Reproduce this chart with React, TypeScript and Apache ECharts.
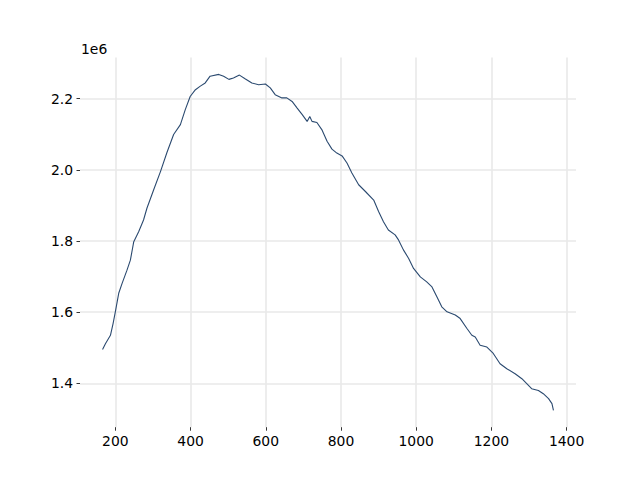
import React, { useEffect, useRef } from "react";
import * as echarts from "echarts";

const xValues: number[] = [
  166, 174, 187, 194, 200, 209, 218, 231, 240, 249, 262, 275, 284, 302, 320, 337, 355, 373, 386, 399,
  413, 426, 439, 452, 475, 488, 502, 514, 530, 546, 563, 581, 599, 612, 625, 643, 656, 670, 683, 697,
  710, 717, 723, 736, 749, 763, 776, 789, 803, 816, 829, 847, 865, 887, 900, 913, 926, 944, 953, 966,
  980, 993, 1011, 1028, 1042, 1055, 1068, 1082, 1104, 1117, 1135, 1148, 1157, 1170, 1188, 1205, 1223,
  1241, 1263, 1281, 1294, 1307, 1325, 1338, 1352, 1361, 1365,
];

const yValues: number[] = [
  1495000, 1512000, 1535000, 1568000, 1601000, 1653000, 1681000, 1718000, 1746000, 1798000,
  1826000, 1859000, 1892000, 1944000, 1995000, 2048000, 2099000, 2127000, 2169000, 2206000,
  2225000, 2235000, 2244000, 2263000, 2268000, 2263000, 2254000, 2258000, 2266000, 2255000,
  2244000, 2239000, 2241000, 2230000, 2211000, 2202000, 2202000, 2192000, 2174000, 2155000,
  2136000, 2150000, 2136000, 2133000, 2113000, 2080000, 2058000, 2047000, 2039000, 2019000,
  1991000, 1958000, 1939000, 1915000, 1883000, 1854000, 1831000, 1817000, 1803000, 1775000,
  1751000, 1723000, 1699000, 1685000, 1671000, 1643000, 1615000, 1601000, 1592000, 1582000,
  1554000, 1535000, 1530000, 1507000, 1502000, 1484000, 1455000, 1441000, 1427000, 1413000,
  1399000, 1385000, 1380000, 1371000, 1357000, 1343000, 1324000,
];

const xTicks: number[] = [200, 400, 600, 800, 1000, 1200, 1400];
const yTicks: number[] = [1400000, 1600000, 1800000, 2000000, 2200000];
const offsetLabel = "1e6";

export default function App() {
  const ref = useRef<HTMLDivElement>(null);

  useEffect(() => {
    if (!ref.current) return;
    const chart = echarts.init(ref.current, undefined, { renderer: "svg" });
    const font = "DejaVu Sans";
    const data = xValues.map((x, i) => [x, yValues[i]]);
    const xmin = Math.min(...xValues);
    const xmax = Math.max(...xValues);
    const ymin = Math.min(...yValues);
    const ymax = Math.max(...yValues);
    const xm = (xmax - xmin) * 0.05;
    const ym = (ymax - ymin) * 0.05;
    const gridLine = { show: true, lineStyle: { color: "#e9e9e9", width: 1.6 } };
    const tick = { show: true, length: 3.5, lineStyle: { color: "#000", width: 0.8 } };

    chart.setOption({
      animation: false,
      backgroundColor: "#fff",
      grid: { left: 80, right: 64, top: 57.6, bottom: 52.8, containLabel: false },
      xAxis: {
        type: "value",
        min: xmin - xm,
        max: xmax + xm,
        axisLine: { show: false },
        axisTick: { ...tick, customValues: xTicks },
        axisLabel: {
          customValues: xTicks,
          margin: 7,
          color: "#000",
          fontFamily: font,
          fontSize: 13.9,
          formatter: (v: number) => String(Math.round(v)),
        },
        splitLine: gridLine,
      },
      yAxis: {
        type: "value",
        min: ymin - ym,
        max: ymax + ym,
        axisLine: { show: false },
        axisTick: { ...tick, customValues: yTicks },
        axisLabel: {
          customValues: yTicks,
          margin: 7,
          color: "#000",
          fontFamily: font,
          fontSize: 13.9,
          formatter: (v: number) => (v / 1e6).toFixed(1),
        },
        splitLine: gridLine,
      },
      graphic: [
        {
          type: "text",
          x: 81,
          y: 56,
          style: {
            text: offsetLabel,
            fontFamily: font,
            fontSize: 13.9,
            fill: "#000",
            verticalAlign: "bottom",
            align: "left",
          },
        },
      ],
      series: [
        {
          type: "line",
          data,
          showSymbol: false,
          symbol: "none",
          lineStyle: { color: "#2b4a70", width: 1.1 },
        },
      ],
    });
    return () => chart.dispose();
  }, []);

  return (
    <div
      ref={ref}
      style={{ position: "fixed", left: 0, top: 0, width: 640, height: 480 }}
    />
  );
}
